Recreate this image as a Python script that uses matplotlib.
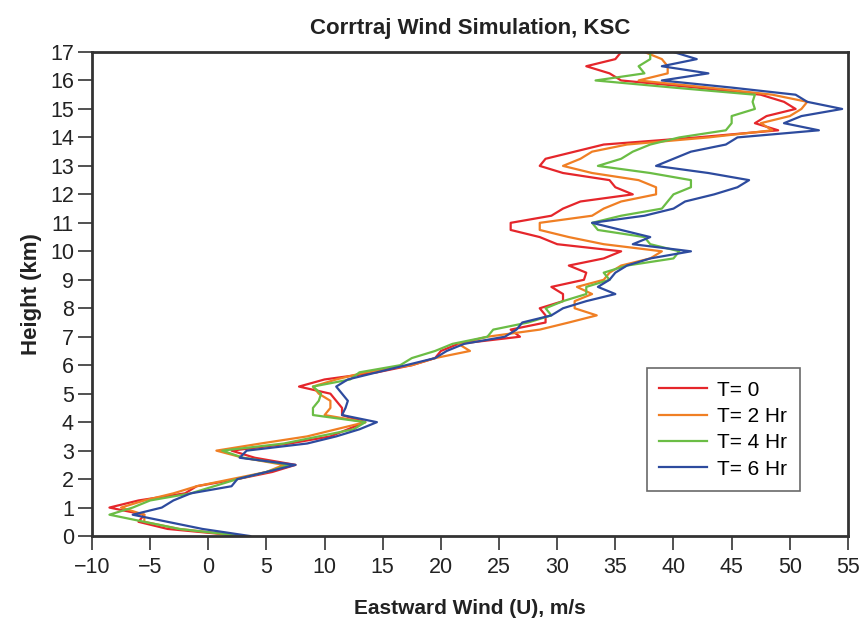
import numpy as np
import matplotlib
matplotlib.use("Agg")
import matplotlib.pyplot as plt

plt.rcParams['font.family'] = ['Liberation Sans', 'DejaVu Sans']

# height grid (km), every 0.25 km
height = np.arange(0, 17.01, 0.25)

# eastward wind (m/s) at each height
u_t0 = [3.0, -3.5, -6.0, -5.5, -8.5, -6.0, -2.0, -1.0, 2.5, 5.5, 7.5, 4.0, 2.0, 7.0, 10.5, 12.0,
        13.5, 11.5, 11.5, 11.0, 10.5, 7.8, 10.0, 14.5, 17.5, 19.5, 20.0, 21.5, 26.8, 26.0, 29.0, 29.0,
        28.5, 30.5, 30.5, 29.5, 32.3, 32.5, 31.0, 34.0, 35.5, 30.0, 28.5, 26.0, 26.0, 29.5, 30.5, 32.0,
        36.5, 35.0, 34.5, 30.5, 28.5, 29.0, 31.5, 34.0, 42.0, 49.0, 47.0, 48.0, 50.5, 49.5, 47.5, 42.0,
        35.5, 34.5, 32.5, 35.0, 35.5]
u_t2 = [3.0, -2.5, -5.5, -5.5, -7.5, -5.5, -3.0, -1.0, 2.0, 5.0, 6.5, 3.0, 0.7, 4.5, 8.5, 11.0,
        13.5, 10.0, 10.5, 10.5, 9.5, 9.0, 11.0, 13.5, 17.5, 19.5, 22.5, 21.5, 24.0, 28.5, 31.0, 33.4,
        31.5, 31.5, 33.0, 31.7, 34.0, 34.5, 35.5, 38.0, 39.0, 34.0, 31.0, 28.5, 28.5, 33.0, 34.0, 35.5,
        38.5, 38.5, 37.0, 33.0, 30.5, 32.0, 33.0, 36.0, 43.0, 48.5, 47.5, 50.0, 51.0, 51.5, 48.5, 43.0,
        37.0, 39.5, 39.5, 39.0, 37.5]
u_t4 = [3.0, -2.5, -5.5, -8.5, -6.5, -5.0, -1.5, 0.5, 2.5, 5.0, 7.0, 3.0, 1.2, 6.5, 9.5, 12.5,
        13.5, 9.0, 9.0, 9.5, 9.7, 9.0, 12.2, 13.0, 16.5, 17.5, 19.5, 21.0, 24.0, 24.5, 27.5, 29.5,
        29.0, 30.5, 32.5, 32.5, 34.5, 34.0, 36.0, 40.0, 40.5, 38.0, 37.5, 33.5, 33.0, 35.5, 39.0, 39.5,
        40.0, 41.5, 41.5, 38.0, 33.5, 35.5, 36.5, 38.0, 40.5, 44.5, 45.0, 45.0, 47.0, 46.8, 47.0, 40.0,
        33.3, 37.5, 37.0, 38.0, 38.0]
u_t6 = [3.6, -0.5, -3.5, -6.5, -4.0, -3.0, -1.5, 2.0, 2.5, 5.0, 7.5, 2.7, 3.3, 8.5, 11.0, 13.0,
        14.5, 11.5, 11.8, 12.0, 11.5, 11.0, 12.0, 14.5, 17.0, 19.5, 20.5, 22.0, 25.5, 26.5, 27.0, 29.5,
        30.5, 32.5, 35.0, 33.5, 34.5, 35.0, 36.0, 38.0, 41.5, 36.5, 38.0, 35.5, 33.0, 37.5, 40.0, 41.0,
        43.5, 45.5, 46.5, 43.0, 38.5, 40.0, 41.5, 44.5, 45.5, 52.5, 49.5, 51.0, 54.5, 51.5, 50.5, 45.0,
        39.0, 43.0, 39.0, 42.0, 40.0]

labels = ["T= 0", "T= 2 Hr", "T= 4 Hr", "T= 6 Hr"]
colors = ["#e5262b", "#f07f24", "#6bbd45", "#2d4b9e"]

fig = plt.figure(figsize=(8.62, 6.19), dpi=100)
ax = fig.add_axes([0.1067, 0.134, 0.877, 0.782])

for u, lab, c in zip([u_t0, u_t2, u_t4, u_t6], labels, colors):
    ax.plot(u, height, color=c, lw=1.6, label=lab)

ax.set_xlim(-10, 55)
ax.set_ylim(0, 17)
ax.set_xticks(np.arange(-10, 56, 5))
ax.set_yticks(np.arange(0, 18, 1))
ax.tick_params(axis='both', direction='out', length=10, width=1.2, labelsize=15.5,
               color='#333333', labelcolor='#222222')
ax.tick_params(axis='x', pad=5)
ax.tick_params(axis='y', pad=3)
for s in ax.spines.values():
    s.set_linewidth(2)
    s.set_color('#333333')

ax.set_title("Corrtraj Wind Simulation, KSC", fontsize=16, fontweight='bold', pad=13,
             color='#222222')
ax.set_xlabel("Eastward Wind (U), m/s", fontsize=15, fontweight='bold', labelpad=15,
              color='#222222')
ax.set_ylabel("Height (km)", fontsize=16, fontweight='bold', labelpad=6, color='#222222')

leg = ax.legend(loc='lower right', bbox_to_anchor=(0.9365, 0.093), borderaxespad=0,
                fontsize=15, frameon=True, fancybox=False, handlelength=2.3,
                handletextpad=0.5, borderpad=0.6, labelspacing=0.35)
leg.get_frame().set_edgecolor('#444444')
leg.get_frame().set_linewidth(1.2)

fig.savefig("out.png", dpi=100)
